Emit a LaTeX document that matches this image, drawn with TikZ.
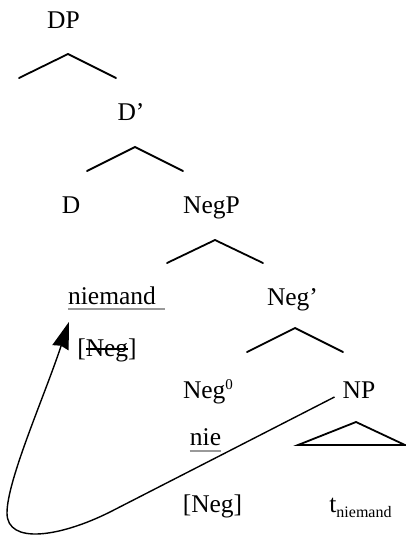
\documentclass[tikz,border=0pt]{standalone}
\usepackage{fontspec}
\setmainfont{Liberation Serif}
\usetikzlibrary{arrows.meta}

\newlength{\strklen}
\newcommand{\strk}[1]{\settowidth{\strklen}{#1}\rlap{\rule[6.5pt]{\strklen}{1.1pt}}#1}
\newcommand{\supz}[1]{\raisebox{9pt}{\fontsize{15}{15}\selectfont #1}}
\newcommand{\subt}[1]{\raisebox{-5pt}{\fontsize{16}{16}\selectfont #1}}

\begin{document}
\begin{tikzpicture}[
  x=1pt, y=1pt,
  every node/.style={font=\fontsize{25.5}{30}\selectfont, inner sep=0pt, anchor=base},
  branch/.style={line width=1.8pt, line cap=round},
  uline/.style={draw=black!40, line width=1.2pt},
  mv/.style={-{Stealth[length=27pt, width=17pt, inset=2pt]}, line width=1.4pt},
]
  \useasboundingbox (0,0) rectangle (405,-539);

  \node (DP) at (63.5,-28) {DP};
  \node (Dbar) at (131,-120) {D’};
  \node (D) at (71,-213) {D};
  \node (NegP) at (211.5,-213) {NegP};
  \node (niemand) at (112,-304) {niemand};
  \node (negdel) at (107,-356) {[\strk{Neg}]};
  \node (Negbar) at (292.5,-305) {Neg’};
  \node (Negnull) at (208,-398) {Neg\supz{0}};
  \node (NP) at (359,-398) {NP};
  \node (nie) at (205.5,-445) {nie};
  \node (negfeat) at (212.5,-512) {[Neg]};
  \node (trace) at (360.5,-512) {t\subt{niemand}};

  \coordinate (dpapex) at (68,-54);
  \coordinate (dbarapex) at (135,-147);
  \coordinate (negpapex) at (215,-240);
  \coordinate (negbarapex) at (295,-328);
  \coordinate (npapex) at (356,-422);

  \draw[branch] (dpapex) ++(-49,-24) -- (dpapex) -- ++(48,-24);
  \draw[branch] (dbarapex) ++(-48,-24) -- (dbarapex) -- ++(48,-24);
  \draw[branch] (negpapex) ++(-48,-23) -- (negpapex) -- ++(48,-23);
  \draw[branch] (negbarapex) ++(-48,-24) -- (negbarapex) -- ++(48,-24);
  \draw[branch] (npapex) ++(-58,-23) -- (npapex) -- ++(49,-23) -- cycle;

  \draw[uline] ([yshift=-5pt]niemand.base west) -- ([xshift=9pt,yshift=-5pt]niemand.base east);
  \draw[uline] ([yshift=-6pt]nie.base west) -- ([yshift=-6pt]nie.base east);

  \draw[mv] ([shift={(-8,1)}]NP.base west) -- (110,-512)
    .. controls (60,-537) and (7,-545) .. (7,-513)
    .. controls (7,-480) and (45,-395) .. ([shift={(1,-18)}]niemand.base west);
\end{tikzpicture}
\end{document}
